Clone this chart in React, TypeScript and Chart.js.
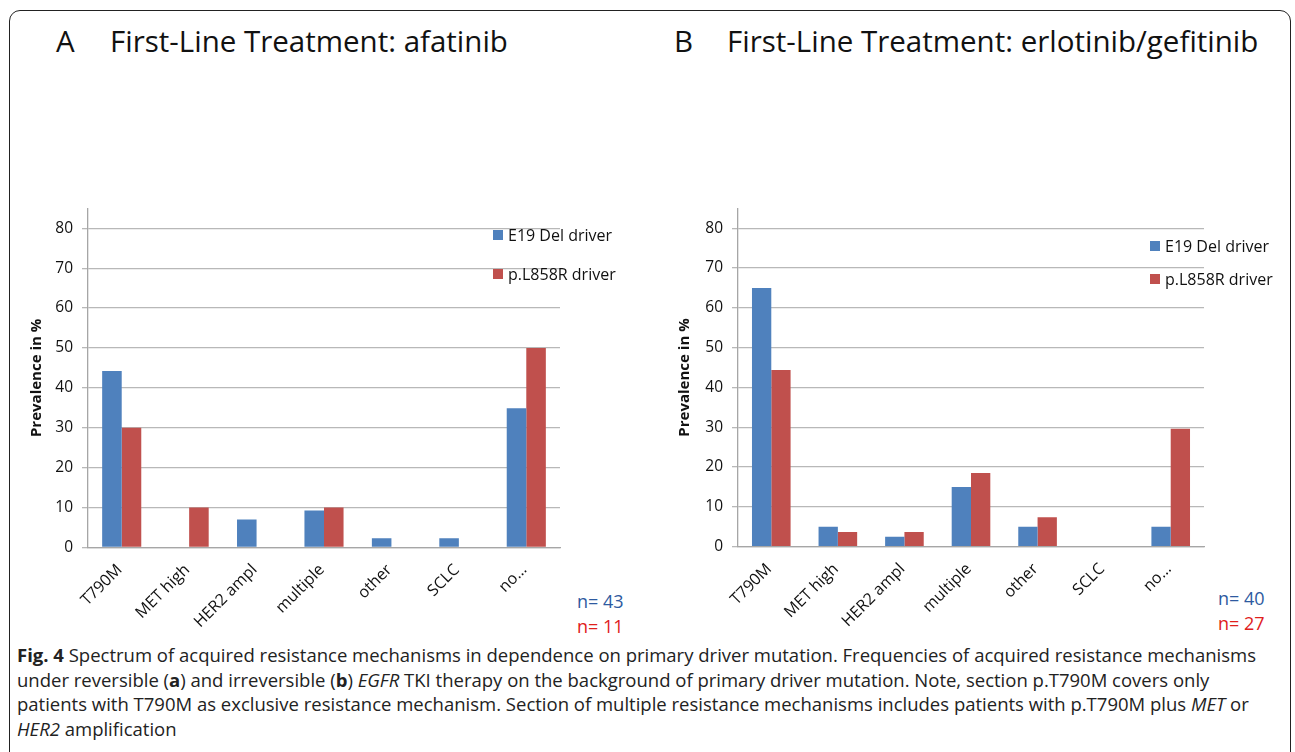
import React, { useEffect, useRef } from "react";
import { Chart, registerables } from "chart.js";

Chart.register(...registerables);

const categories = ["T790M", "MET high", "HER2 ampl", "multiple", "other", "SCLC", "no…"];
const seriesNames = ["E19 Del driver", "p.L858R driver"];
const afatinibE19 = [44.2, 0, 7.0, 9.3, 2.3, 2.3, 34.9];
const afatinibL858R = [30, 10, 0, 10, 0, 0, 50];
const erlotinibE19 = [65, 5, 2.5, 15, 5, 0, 5];
const erlotinibL858R = [44.4, 3.7, 3.7, 18.5, 7.4, 0, 29.6];
const yTicksMax = 80;
const yAxisMax = 85;
const yStep = 10;
const yTitle = "Prevalence in %";

const BLUE = "#4f81bd";
const RED = "#c0504d";
const FONT = "'Open Sans', sans-serif";

type PanelProps = {
  e19: number[];
  l858: number[];
  left: number;
  top: number;
  width: number;
  height: number;
  padTop: number;
  xHeight: number;
  yWidth: number;
  titlePad: number;
};

function Panel(p: PanelProps) {
  const ref = useRef<HTMLCanvasElement | null>(null);
  useEffect(() => {
    if (!ref.current) return;
    const chart = new Chart(ref.current, {
      type: "bar",
      data: {
        labels: categories,
        datasets: [
          { label: seriesNames[0], data: p.e19, backgroundColor: BLUE, borderWidth: 0 },
          { label: seriesNames[1], data: p.l858, backgroundColor: RED, borderWidth: 0 },
        ],
      },
      options: {
        animation: false,
        responsive: false,
        maintainAspectRatio: false,
        layout: { padding: { top: p.padTop, right: 10, left: 0, bottom: 0 } },
        plugins: { legend: { display: false }, tooltip: { enabled: false } },
        datasets: { bar: { barPercentage: 1, categoryPercentage: 0.58 } },
        scales: {
          x: {
            grid: { display: false, drawTicks: true, tickLength: 6 },
            border: { display: true, color: "#a6a6a6", width: 1.3 },
            ticks: {
              color: "#111",
              font: { family: FONT, size: 16 },
              minRotation: 45,
              maxRotation: 45,
              autoSkip: false,
              labelOffset: -2,
              padding: 7,
            },
            afterFit: (s: any) => {
              s.height = p.xHeight;
            },
          },
          y: {
            min: 0,
            max: yAxisMax,
            grid: {
              color: (c: any) => (c.tick && c.tick.value > yTicksMax ? "rgba(0,0,0,0)" : "#b8b8b8"),
              lineWidth: 1.3,
              drawTicks: true,
              tickLength: 6,
            },
            border: { display: true, color: "#a6a6a6", width: 1.3 },
            ticks: {
              stepSize: yStep,
              color: "#111",
              font: { family: FONT, size: 15.5 },
              padding: 9,
              callback: (v: any) => (Number(v) > yTicksMax ? "" : String(v)),
            },
            title: {
              display: true,
              text: yTitle,
              color: "#111",
              font: { family: FONT, size: 15, weight: "bold" },
              padding: { top: p.titlePad, bottom: 0 },
            },
            afterFit: (s: any) => {
              s.width = p.yWidth;
            },
          },
        },
      },
    });
    return () => chart.destroy();
  }, []);
  return (
    <canvas
      ref={ref}
      width={p.width}
      height={p.height}
      style={{ position: "absolute", left: p.left, top: p.top, width: p.width, height: p.height }}
    />
  );
}

function Legend({ left, top, gap }: { left: number; top: number; gap: number }) {
  const items = [
    { name: seriesNames[0], color: BLUE },
    { name: seriesNames[1], color: RED },
  ];
  return (
    <>
      {items.map((it, i) => (
        <div
          key={i}
          style={{
            position: "absolute",
            left,
            top: top + i * gap - 11,
            height: 22,
            display: "flex",
            alignItems: "center",
            fontFamily: FONT,
            fontSize: 16,
            color: "#111",
            whiteSpace: "nowrap",
          }}
        >
          <span style={{ display: "inline-block", width: 10, height: 10, background: it.color, marginRight: 5 }} />
          {it.name}
        </div>
      ))}
    </>
  );
}

function NLabel({ left, top, text, color }: { left: number; top: number; text: string; color: string }) {
  return (
    <div
      style={{
        position: "absolute",
        left,
        top: top - 12,
        lineHeight: "24px",
        fontFamily: FONT,
        fontSize: 18,
        color,
        whiteSpace: "nowrap",
      }}
    >
      {text}
    </div>
  );
}

export default function App() {
  useEffect(() => {
    document.body.style.margin = "0";
  }, []);
  const titleStyle: React.CSSProperties = {
    position: "absolute",
    top: 23,
    lineHeight: "36px",
    fontFamily: FONT,
    fontSize: 29.5,
    color: "#111",
    whiteSpace: "nowrap",
  };
  const capStyle: React.CSSProperties = {
    position: "absolute",
    left: 17,
    top: 643,
    fontFamily: FONT,
    fontSize: 18.5,
    lineHeight: "24.5px",
    color: "#222",
    whiteSpace: "nowrap",
  };
  return (
    <div style={{ position: "relative", width: 1295, height: 752, overflow: "hidden", background: "#fff" }}>
      <div
        style={{
          position: "absolute",
          left: 9,
          top: 10,
          width: 1282,
          height: 800,
          border: "1.5px solid #222",
          borderRadius: "11px 11px 0 0",
          boxSizing: "border-box",
        }}
      />
      <div style={{ ...titleStyle, left: 56 }}>A</div>
      <div style={{ ...titleStyle, left: 110 }}>First-Line Treatment: afatinib</div>
      <div style={{ ...titleStyle, left: 674 }}>B</div>
      <div style={{ ...titleStyle, left: 727 }}>First-Line Treatment: erlotinib/gefitinib</div>

      <Panel e19={afatinibE19} l858={afatinibL858R} left={20} top={190} width={550} height={450}
        padTop={8.5} xHeight={92.5} yWidth={68} titlePad={8} />
      <Panel e19={erlotinibE19} l858={erlotinibL858R} left={670} top={190} width={544} height={450}
        padTop={8.8} xHeight={93.3} yWidth={68} titlePad={6} />

      <Legend left={493} top={235} gap={38.5} />
      <Legend left={1150} top={246} gap={33} />

      <NLabel left={577} top={601} text="n= 43" color="#2e5aa0" />
      <NLabel left={577} top={626} text="n= 11" color="#e0201c" />
      <NLabel left={1218} top={598} text="n= 40" color="#2e5aa0" />
      <NLabel left={1218} top={623} text="n= 27" color="#e0201c" />

      <div style={capStyle}>
        <b>Fig. 4</b> Spectrum of acquired resistance mechanisms in dependence on primary driver mutation. Frequencies of acquired resistance mechanisms
        <br />
        under reversible (<b>a</b>) and irreversible (<b>b</b>) <i>EGFR</i> TKI therapy on the background of primary driver mutation. Note, section p.T790M covers only
        <br />
        patients with T790M as exclusive resistance mechanism. Section of multiple resistance mechanisms includes patients with p.T790M plus <i>MET</i> or
        <br />
        <i>HER2</i> amplification
      </div>
    </div>
  );
}
